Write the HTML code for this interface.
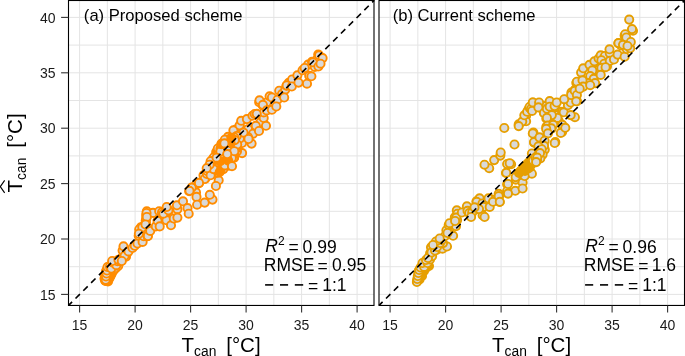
<!DOCTYPE html>
<html><head><meta charset="utf-8"><style>html,body{margin:0;padding:0;background:#fff;overflow:hidden}svg{display:block;will-change:transform}</style></head>
<body><svg width="685" height="356" viewBox="0 0 685 356" font-family='"Liberation Sans", sans-serif'>
<rect width="685" height="356" fill="#fff"/>
<line x1="79.60" y1="0.5" x2="79.60" y2="305.45" stroke="#E4E4E4" stroke-width="1.0"/>
<line x1="68.5" y1="294.40" x2="374.0" y2="294.40" stroke="#E4E4E4" stroke-width="1.0"/>
<line x1="107.35" y1="0.5" x2="107.35" y2="305.45" stroke="#E4E4E4" stroke-width="1.0"/>
<line x1="68.5" y1="266.70" x2="374.0" y2="266.70" stroke="#E4E4E4" stroke-width="1.0"/>
<line x1="135.10" y1="0.5" x2="135.10" y2="305.45" stroke="#E4E4E4" stroke-width="1.0"/>
<line x1="68.5" y1="239.00" x2="374.0" y2="239.00" stroke="#E4E4E4" stroke-width="1.0"/>
<line x1="162.85" y1="0.5" x2="162.85" y2="305.45" stroke="#E4E4E4" stroke-width="1.0"/>
<line x1="68.5" y1="211.30" x2="374.0" y2="211.30" stroke="#E4E4E4" stroke-width="1.0"/>
<line x1="190.60" y1="0.5" x2="190.60" y2="305.45" stroke="#E4E4E4" stroke-width="1.0"/>
<line x1="68.5" y1="183.60" x2="374.0" y2="183.60" stroke="#E4E4E4" stroke-width="1.0"/>
<line x1="218.35" y1="0.5" x2="218.35" y2="305.45" stroke="#E4E4E4" stroke-width="1.0"/>
<line x1="68.5" y1="155.90" x2="374.0" y2="155.90" stroke="#E4E4E4" stroke-width="1.0"/>
<line x1="246.10" y1="0.5" x2="246.10" y2="305.45" stroke="#E4E4E4" stroke-width="1.0"/>
<line x1="68.5" y1="128.20" x2="374.0" y2="128.20" stroke="#E4E4E4" stroke-width="1.0"/>
<line x1="273.85" y1="0.5" x2="273.85" y2="305.45" stroke="#E4E4E4" stroke-width="1.0"/>
<line x1="68.5" y1="100.50" x2="374.0" y2="100.50" stroke="#E4E4E4" stroke-width="1.0"/>
<line x1="301.60" y1="0.5" x2="301.60" y2="305.45" stroke="#E4E4E4" stroke-width="1.0"/>
<line x1="68.5" y1="72.80" x2="374.0" y2="72.80" stroke="#E4E4E4" stroke-width="1.0"/>
<line x1="329.35" y1="0.5" x2="329.35" y2="305.45" stroke="#E4E4E4" stroke-width="1.0"/>
<line x1="68.5" y1="45.10" x2="374.0" y2="45.10" stroke="#E4E4E4" stroke-width="1.0"/>
<line x1="357.10" y1="0.5" x2="357.10" y2="305.45" stroke="#E4E4E4" stroke-width="1.0"/>
<line x1="68.5" y1="17.40" x2="374.0" y2="17.40" stroke="#E4E4E4" stroke-width="1.0"/>
<g fill="#D9D9D9" stroke="#FF8C00" stroke-width="1.9">
<circle cx="105.5" cy="281.0" r="4.1"/>
<circle cx="106.0" cy="279.5" r="4.1"/>
<circle cx="106.5" cy="278.0" r="4.1"/>
<circle cx="107.0" cy="275.0" r="4.1"/>
<circle cx="107.5" cy="272.0" r="4.1"/>
<circle cx="108.0" cy="269.0" r="4.1"/>
<circle cx="108.5" cy="267.5" r="4.1"/>
<circle cx="109.5" cy="266.5" r="4.1"/>
<circle cx="108.5" cy="277.0" r="4.1"/>
<circle cx="109.0" cy="274.0" r="4.1"/>
<circle cx="104.5" cy="278.5" r="4.1"/>
<circle cx="105.0" cy="276.0" r="4.1"/>
<circle cx="106.0" cy="271.0" r="4.1"/>
<circle cx="105.2" cy="280.2" r="4.1"/>
<circle cx="106.3" cy="280.8" r="4.1"/>
<circle cx="105.8" cy="278.2" r="4.1"/>
<circle cx="107.2" cy="279.0" r="4.1"/>
<circle cx="106.8" cy="276.0" r="4.1"/>
<circle cx="105.4" cy="274.6" r="4.1"/>
<circle cx="107.6" cy="273.8" r="4.1"/>
<circle cx="106.2" cy="272.2" r="4.1"/>
<circle cx="108.2" cy="271.2" r="4.1"/>
<circle cx="107.4" cy="268.8" r="4.1"/>
<circle cx="108.8" cy="270.5" r="4.1"/>
<circle cx="108.5" cy="279.5" r="4.1"/>
<circle cx="110.2" cy="276.2" r="4.1"/>
<circle cx="112.0" cy="273.0" r="4.1"/>
<circle cx="113.8" cy="270.2" r="4.1"/>
<circle cx="116.0" cy="268.0" r="4.1"/>
<circle cx="118.2" cy="266.0" r="4.1"/>
<circle cx="105.5" cy="280.5" r="4.1" fill="#FF8C00"/>
<circle cx="106.8" cy="278.5" r="4.1" fill="#FF8C00"/>
<circle cx="106.0" cy="276.0" r="4.1" fill="#FF8C00"/>
<circle cx="107.5" cy="275.0" r="4.1" fill="#FF8C00"/>
<circle cx="109.5" cy="278.0" r="4.1" fill="#FF8C00"/>
<circle cx="108.0" cy="281.5" r="4.1" fill="#FF8C00"/>
<circle cx="111.0" cy="275.0" r="4.1" fill="#FF8C00"/>
<circle cx="105.7" cy="279.8" r="4.1"/>
<circle cx="106.0" cy="276.5" r="4.1"/>
<circle cx="106.5" cy="273.5" r="4.1"/>
<circle cx="107.0" cy="270.5" r="4.1"/>
<circle cx="107.5" cy="267.0" r="4.1"/>
<circle cx="110.0" cy="266.5" r="4.1"/>
<circle cx="111.3" cy="268.5" r="4.1"/>
<circle cx="112.5" cy="262.4" r="4.1"/>
<circle cx="116.4" cy="265.2" r="4.1"/>
<circle cx="117.5" cy="261.2" r="4.1"/>
<circle cx="120.9" cy="261.2" r="4.1"/>
<circle cx="121.5" cy="258.4" r="4.1"/>
<circle cx="123.7" cy="255.6" r="4.1"/>
<circle cx="126.0" cy="256.7" r="4.1"/>
<circle cx="127.0" cy="253.4" r="4.1"/>
<circle cx="122.6" cy="250.6" r="4.1"/>
<circle cx="123.5" cy="246.3" r="4.1"/>
<circle cx="112.2" cy="261.0" r="4.1"/>
<circle cx="118.4" cy="259.8" r="4.1"/>
<circle cx="124.6" cy="255.9" r="4.1"/>
<circle cx="121.8" cy="261.0" r="4.1"/>
<circle cx="128.5" cy="251.4" r="4.1"/>
<circle cx="132.5" cy="248.0" r="4.1"/>
<circle cx="134.7" cy="245.8" r="4.1"/>
<circle cx="137.5" cy="243.5" r="4.1"/>
<circle cx="138.7" cy="235.7" r="4.1"/>
<circle cx="142.6" cy="241.9" r="4.1"/>
<circle cx="143.7" cy="236.2" r="4.1"/>
<circle cx="147.6" cy="236.2" r="4.1"/>
<circle cx="140.9" cy="227.2" r="4.1"/>
<circle cx="147.1" cy="228.9" r="4.1"/>
<circle cx="139.2" cy="229.5" r="4.1"/>
<circle cx="146.8" cy="211.2" r="4.1"/>
<circle cx="146.2" cy="215.2" r="4.1"/>
<circle cx="146.2" cy="218.5" r="4.1"/>
<circle cx="145.7" cy="220.8" r="4.1"/>
<circle cx="144.0" cy="225.8" r="4.1"/>
<circle cx="142.3" cy="227.5" r="4.1"/>
<circle cx="138.9" cy="233.7" r="4.1"/>
<circle cx="147.9" cy="236.0" r="4.1"/>
<circle cx="150.2" cy="230.9" r="4.1"/>
<circle cx="155.8" cy="226.4" r="4.1"/>
<circle cx="153.0" cy="212.9" r="4.1"/>
<circle cx="159.2" cy="211.2" r="4.1"/>
<circle cx="157.5" cy="220.8" r="4.1"/>
<circle cx="159.7" cy="226.4" r="4.1"/>
<circle cx="162.0" cy="212.4" r="4.1"/>
<circle cx="165.3" cy="216.9" r="4.1"/>
<circle cx="168.7" cy="210.7" r="4.1"/>
<circle cx="166.5" cy="220.2" r="4.1"/>
<circle cx="171.0" cy="225.3" r="4.1"/>
<circle cx="173.8" cy="218.5" r="4.1"/>
<circle cx="163.4" cy="213.7" r="4.1"/>
<circle cx="168.4" cy="210.3" r="4.1"/>
<circle cx="166.7" cy="207.0" r="4.1"/>
<circle cx="177.4" cy="209.2" r="4.1"/>
<circle cx="176.9" cy="205.3" r="4.1"/>
<circle cx="183.0" cy="201.3" r="4.1"/>
<circle cx="187.5" cy="208.1" r="4.1"/>
<circle cx="188.7" cy="213.7" r="4.1"/>
<circle cx="177.4" cy="217.6" r="4.1"/>
<circle cx="189.2" cy="191.2" r="4.1"/>
<circle cx="193.7" cy="189.0" r="4.1"/>
<circle cx="196.0" cy="192.4" r="4.1"/>
<circle cx="196.5" cy="196.9" r="4.1"/>
<circle cx="197.1" cy="204.7" r="4.1"/>
<circle cx="196.0" cy="184.5" r="4.1"/>
<circle cx="191.7" cy="187.6" r="4.1"/>
<circle cx="199.0" cy="183.1" r="4.1"/>
<circle cx="205.2" cy="178.7" r="4.1"/>
<circle cx="203.5" cy="175.3" r="4.1"/>
<circle cx="207.5" cy="174.2" r="4.1"/>
<circle cx="210.8" cy="169.7" r="4.1"/>
<circle cx="213.1" cy="159.6" r="4.1"/>
<circle cx="218.7" cy="160.7" r="4.1"/>
<circle cx="217.6" cy="165.2" r="4.1"/>
<circle cx="219.8" cy="168.0" r="4.1"/>
<circle cx="215.3" cy="172.5" r="4.1"/>
<circle cx="218.7" cy="180.3" r="4.1"/>
<circle cx="215.9" cy="186.0" r="4.1"/>
<circle cx="222.1" cy="155.0" r="4.1"/>
<circle cx="217.6" cy="152.2" r="4.1"/>
<circle cx="213.1" cy="164.6" r="4.1"/>
<circle cx="209.2" cy="166.9" r="4.1"/>
<circle cx="212.9" cy="158.7" r="4.1"/>
<circle cx="219.6" cy="149.2" r="4.1"/>
<circle cx="221.9" cy="143.5" r="4.1"/>
<circle cx="228.0" cy="136.8" r="4.1"/>
<circle cx="234.8" cy="134.6" r="4.1"/>
<circle cx="235.9" cy="129.5" r="4.1"/>
<circle cx="239.8" cy="126.7" r="4.1"/>
<circle cx="226.3" cy="147.5" r="4.1"/>
<circle cx="232.0" cy="150.8" r="4.1"/>
<circle cx="237.6" cy="147.5" r="4.1"/>
<circle cx="242.1" cy="143.0" r="4.1"/>
<circle cx="242.1" cy="153.1" r="4.1"/>
<circle cx="223.0" cy="161.0" r="4.1"/>
<circle cx="219.6" cy="154.2" r="4.1"/>
<circle cx="227.5" cy="155.3" r="4.1"/>
<circle cx="234.2" cy="157.6" r="4.1"/>
<circle cx="216.2" cy="152.0" r="4.1"/>
<circle cx="239.8" cy="138.5" r="4.1"/>
<circle cx="233.4" cy="130.3" r="4.1"/>
<circle cx="239.6" cy="125.3" r="4.1"/>
<circle cx="241.2" cy="120.8" r="4.1"/>
<circle cx="246.9" cy="119.1" r="4.1"/>
<circle cx="252.5" cy="115.7" r="4.1"/>
<circle cx="254.7" cy="114.0" r="4.1"/>
<circle cx="248.0" cy="129.2" r="4.1"/>
<circle cx="253.0" cy="133.7" r="4.1"/>
<circle cx="248.0" cy="137.1" r="4.1"/>
<circle cx="258.1" cy="128.1" r="4.1"/>
<circle cx="260.3" cy="122.5" r="4.1"/>
<circle cx="263.7" cy="118.0" r="4.1"/>
<circle cx="263.7" cy="112.4" r="4.1"/>
<circle cx="262.6" cy="105.1" r="4.1"/>
<circle cx="259.2" cy="102.2" r="4.1"/>
<circle cx="267.1" cy="102.2" r="4.1"/>
<circle cx="266.0" cy="125.8" r="4.1"/>
<circle cx="255.8" cy="125.8" r="4.1"/>
<circle cx="243.5" cy="132.6" r="4.1"/>
<circle cx="236.7" cy="136.0" r="4.1"/>
<circle cx="259.5" cy="100.3" r="4.1"/>
<circle cx="262.9" cy="104.8" r="4.1"/>
<circle cx="266.8" cy="110.4" r="4.1"/>
<circle cx="269.6" cy="96.3" r="4.1"/>
<circle cx="271.9" cy="97.5" r="4.1"/>
<circle cx="274.7" cy="104.2" r="4.1"/>
<circle cx="277.5" cy="99.7" r="4.1"/>
<circle cx="279.2" cy="90.7" r="4.1"/>
<circle cx="282.0" cy="94.1" r="4.1"/>
<circle cx="285.3" cy="89.6" r="4.1"/>
<circle cx="286.5" cy="85.7" r="4.1"/>
<circle cx="288.7" cy="82.9" r="4.1"/>
<circle cx="292.1" cy="79.5" r="4.1"/>
<circle cx="271.9" cy="109.8" r="4.1"/>
<circle cx="276.3" cy="106.5" r="4.1"/>
<circle cx="284.2" cy="97.5" r="4.1"/>
<circle cx="256.7" cy="113.8" r="4.1"/>
<circle cx="286.7" cy="85.4" r="4.1"/>
<circle cx="291.8" cy="86.5" r="4.1"/>
<circle cx="297.4" cy="75.3" r="4.1"/>
<circle cx="298.5" cy="82.6" r="4.1"/>
<circle cx="302.5" cy="70.2" r="4.1"/>
<circle cx="307.0" cy="83.7" r="4.1"/>
<circle cx="309.2" cy="75.8" r="4.1"/>
<circle cx="308.1" cy="64.6" r="4.1"/>
<circle cx="312.0" cy="61.8" r="4.1"/>
<circle cx="314.8" cy="66.9" r="4.1"/>
<circle cx="318.2" cy="54.5" r="4.1"/>
<circle cx="316.5" cy="60.1" r="4.1"/>
<circle cx="304.7" cy="68.0" r="4.1"/>
<circle cx="319.1" cy="55.3" r="4.1"/>
<circle cx="322.6" cy="58.1" r="4.1"/>
<circle cx="312.8" cy="62.3" r="4.1"/>
<circle cx="318.4" cy="66.5" r="4.1"/>
<circle cx="320.5" cy="63.7" r="4.1"/>
<circle cx="311.4" cy="76.3" r="4.1"/>
<circle cx="189.5" cy="190.8" r="4.1"/>
<circle cx="204.7" cy="202.6" r="4.1"/>
<circle cx="212.5" cy="199.6" r="4.1"/>
<circle cx="209.8" cy="194.8" r="4.1"/>
<circle cx="204.7" cy="179.0" r="4.1"/>
<circle cx="199.0" cy="182.9" r="4.1"/>
<circle cx="206.9" cy="173.9" r="4.1"/>
<circle cx="210.8" cy="172.2" r="4.1"/>
<circle cx="221.1" cy="164.1" r="4.1"/>
<circle cx="217.9" cy="151.0" r="4.1"/>
<circle cx="228.3" cy="165.8" r="4.1"/>
<circle cx="217.2" cy="164.6" r="4.1"/>
<circle cx="217.8" cy="148.5" r="4.1"/>
<circle cx="231.9" cy="140.4" r="4.1"/>
<circle cx="224.7" cy="157.3" r="4.1" fill="#FF8C00"/>
<circle cx="213.0" cy="164.1" r="4.1"/>
<circle cx="235.2" cy="145.0" r="4.1"/>
<circle cx="217.9" cy="172.7" r="4.1"/>
<circle cx="220.5" cy="148.5" r="4.1" fill="#FF8C00"/>
<circle cx="223.6" cy="146.7" r="4.1"/>
<circle cx="212.7" cy="171.1" r="4.1" fill="#FF8C00"/>
<circle cx="228.2" cy="144.1" r="4.1"/>
<circle cx="237.0" cy="151.2" r="4.1"/>
<circle cx="209.1" cy="171.3" r="4.1" fill="#FF8C00"/>
<circle cx="234.7" cy="146.8" r="4.1"/>
<circle cx="230.4" cy="147.3" r="4.1"/>
<circle cx="213.9" cy="157.2" r="4.1"/>
<circle cx="234.0" cy="157.2" r="4.1"/>
<circle cx="231.1" cy="150.0" r="4.1" fill="#FF8C00"/>
<circle cx="237.1" cy="148.2" r="4.1" fill="#FF8C00"/>
<circle cx="217.6" cy="161.0" r="4.1"/>
<circle cx="228.5" cy="151.0" r="4.1" fill="#FF8C00"/>
<circle cx="212.8" cy="161.1" r="4.1" fill="#FF8C00"/>
<circle cx="234.1" cy="154.3" r="4.1" fill="#FF8C00"/>
<circle cx="224.2" cy="154.1" r="4.1" fill="#FF8C00"/>
<circle cx="223.8" cy="161.3" r="4.1"/>
<circle cx="226.8" cy="139.9" r="4.1"/>
<circle cx="220.0" cy="154.4" r="4.1"/>
<circle cx="217.4" cy="155.4" r="4.1"/>
<circle cx="223.5" cy="150.6" r="4.1"/>
<circle cx="234.5" cy="137.5" r="4.1"/>
<circle cx="237.2" cy="144.6" r="4.1"/>
<circle cx="210.6" cy="161.2" r="4.1"/>
<circle cx="230.0" cy="162.4" r="4.1" fill="#FF8C00"/>
<circle cx="234.8" cy="140.1" r="4.1"/>
<circle cx="216.7" cy="167.9" r="4.1"/>
<circle cx="224.8" cy="139.7" r="4.1"/>
<circle cx="207.1" cy="171.0" r="4.1"/>
<circle cx="227.7" cy="146.6" r="4.1"/>
<circle cx="230.6" cy="143.1" r="4.1" fill="#FF8C00"/>
<circle cx="230.7" cy="154.7" r="4.1"/>
<circle cx="231.3" cy="137.7" r="4.1" fill="#FF8C00"/>
<circle cx="231.8" cy="157.9" r="4.1"/>
<circle cx="209.5" cy="169.2" r="4.1"/>
<circle cx="221.2" cy="157.9" r="4.1"/>
<circle cx="227.2" cy="158.3" r="4.1"/>
<circle cx="220.4" cy="151.4" r="4.1"/>
<circle cx="223.3" cy="169.1" r="4.1"/>
<circle cx="221.3" cy="144.1" r="4.1" fill="#FF8C00"/>
<circle cx="220.6" cy="169.1" r="4.1" fill="#FF8C00"/>
<circle cx="234.3" cy="151.2" r="4.1"/>
<circle cx="224.8" cy="165.4" r="4.1"/>
<circle cx="210.6" cy="175.3" r="4.1"/>
<circle cx="213.5" cy="169.1" r="4.1"/>
<circle cx="220.2" cy="161.3" r="4.1" fill="#FF8C00"/>
<circle cx="209.6" cy="164.7" r="4.1"/>
<circle cx="206.7" cy="168.2" r="4.1"/>
<circle cx="219.7" cy="172.0" r="4.1" fill="#FF8C00"/>
<circle cx="228.3" cy="160.8" r="4.1" fill="#FF8C00"/>
<circle cx="227.2" cy="154.1" r="4.1"/>
<circle cx="224.4" cy="143.4" r="4.1"/>
<circle cx="216.6" cy="157.7" r="4.1"/>
<circle cx="146.5" cy="213.0" r="4.1"/>
<circle cx="146.0" cy="223.0" r="4.1"/>
<circle cx="146.8" cy="217.0" r="4.1"/>
<circle cx="145.5" cy="224.5" r="4.1"/>
<circle cx="251.6" cy="143.6" r="4.1"/>
<circle cx="248.5" cy="139.0" r="4.1"/>
<circle cx="259.0" cy="131.0" r="4.1"/>
<circle cx="232.0" cy="166.2" r="4.1"/>
</g>
<line x1="68.60" y1="305.38" x2="374.30" y2="0.23" stroke="#000" stroke-width="1.6" stroke-dasharray="6.2 4.83" stroke-dashoffset="1.27"/>
<g fill="#000">
<text x="265.26" y="252.4" font-size="17.5" font-style="italic">R</text>
<text x="278.00" y="244.6" font-size="12">2</text>
<text x="288.55" y="253.2" font-size="17.5">=</text>
<text x="302.62" y="252.5" font-size="17.5">0.99</text>
<text x="263.76" y="270.6" font-size="17.5">RMSE</text>
<text x="317.55" y="271.6" font-size="17.5">=</text>
<text x="332.12" y="270.6" font-size="17.5">0.95</text>
<text x="308.05" y="291.7" font-size="17.5">=</text>
<text x="322.27" y="290.7" font-size="17.5">1:1</text>
</g>
<g stroke="#000" stroke-width="1.6">
<line x1="265.1" y1="284.9" x2="273.2" y2="284.9"/>
<line x1="280.0" y1="284.9" x2="288.1" y2="284.9"/>
<line x1="294.8" y1="284.9" x2="303.2" y2="284.9"/>
</g>
<rect x="68.5" y="0.5" width="305.50" height="304.95" fill="none" stroke="#000" stroke-width="1.1"/>
<line x1="79.60" y1="305.45" x2="79.60" y2="312.6" stroke="#333" stroke-width="1.1"/>
<text x="79.60" y="330.0" text-anchor="middle" font-size="14" fill="#1a1a1a">15</text>
<line x1="135.10" y1="305.45" x2="135.10" y2="312.6" stroke="#333" stroke-width="1.1"/>
<text x="135.10" y="330.0" text-anchor="middle" font-size="14" fill="#1a1a1a">20</text>
<line x1="190.60" y1="305.45" x2="190.60" y2="312.6" stroke="#333" stroke-width="1.1"/>
<text x="190.60" y="330.0" text-anchor="middle" font-size="14" fill="#1a1a1a">25</text>
<line x1="246.10" y1="305.45" x2="246.10" y2="312.6" stroke="#333" stroke-width="1.1"/>
<text x="246.10" y="330.0" text-anchor="middle" font-size="14" fill="#1a1a1a">30</text>
<line x1="301.60" y1="305.45" x2="301.60" y2="312.6" stroke="#333" stroke-width="1.1"/>
<text x="301.60" y="330.0" text-anchor="middle" font-size="14" fill="#1a1a1a">35</text>
<line x1="357.10" y1="305.45" x2="357.10" y2="312.6" stroke="#333" stroke-width="1.1"/>
<text x="357.10" y="330.0" text-anchor="middle" font-size="14" fill="#1a1a1a">40</text>
<line x1="390.10" y1="0.5" x2="390.10" y2="305.45" stroke="#E4E4E4" stroke-width="1.0"/>
<line x1="379.0" y1="294.40" x2="684.5" y2="294.40" stroke="#E4E4E4" stroke-width="1.0"/>
<line x1="417.85" y1="0.5" x2="417.85" y2="305.45" stroke="#E4E4E4" stroke-width="1.0"/>
<line x1="379.0" y1="266.70" x2="684.5" y2="266.70" stroke="#E4E4E4" stroke-width="1.0"/>
<line x1="445.60" y1="0.5" x2="445.60" y2="305.45" stroke="#E4E4E4" stroke-width="1.0"/>
<line x1="379.0" y1="239.00" x2="684.5" y2="239.00" stroke="#E4E4E4" stroke-width="1.0"/>
<line x1="473.35" y1="0.5" x2="473.35" y2="305.45" stroke="#E4E4E4" stroke-width="1.0"/>
<line x1="379.0" y1="211.30" x2="684.5" y2="211.30" stroke="#E4E4E4" stroke-width="1.0"/>
<line x1="501.10" y1="0.5" x2="501.10" y2="305.45" stroke="#E4E4E4" stroke-width="1.0"/>
<line x1="379.0" y1="183.60" x2="684.5" y2="183.60" stroke="#E4E4E4" stroke-width="1.0"/>
<line x1="528.85" y1="0.5" x2="528.85" y2="305.45" stroke="#E4E4E4" stroke-width="1.0"/>
<line x1="379.0" y1="155.90" x2="684.5" y2="155.90" stroke="#E4E4E4" stroke-width="1.0"/>
<line x1="556.60" y1="0.5" x2="556.60" y2="305.45" stroke="#E4E4E4" stroke-width="1.0"/>
<line x1="379.0" y1="128.20" x2="684.5" y2="128.20" stroke="#E4E4E4" stroke-width="1.0"/>
<line x1="584.35" y1="0.5" x2="584.35" y2="305.45" stroke="#E4E4E4" stroke-width="1.0"/>
<line x1="379.0" y1="100.50" x2="684.5" y2="100.50" stroke="#E4E4E4" stroke-width="1.0"/>
<line x1="612.10" y1="0.5" x2="612.10" y2="305.45" stroke="#E4E4E4" stroke-width="1.0"/>
<line x1="379.0" y1="72.80" x2="684.5" y2="72.80" stroke="#E4E4E4" stroke-width="1.0"/>
<line x1="639.85" y1="0.5" x2="639.85" y2="305.45" stroke="#E4E4E4" stroke-width="1.0"/>
<line x1="379.0" y1="45.10" x2="684.5" y2="45.10" stroke="#E4E4E4" stroke-width="1.0"/>
<line x1="667.60" y1="0.5" x2="667.60" y2="305.45" stroke="#E4E4E4" stroke-width="1.0"/>
<line x1="379.0" y1="17.40" x2="684.5" y2="17.40" stroke="#E4E4E4" stroke-width="1.0"/>
<g fill="#D9D9D9" stroke="#E69F00" stroke-width="1.9">
<circle cx="417.0" cy="281.0" r="4.1" fill="#E69F00"/>
<circle cx="418.0" cy="277.0" r="4.1" fill="#E69F00"/>
<circle cx="419.5" cy="279.5" r="4.1" fill="#E69F00"/>
<circle cx="420.0" cy="274.0" r="4.1" fill="#E69F00"/>
<circle cx="418.5" cy="271.5" r="4.1" fill="#E69F00"/>
<circle cx="422.0" cy="276.0" r="4.1" fill="#E69F00"/>
<circle cx="421.0" cy="270.0" r="4.1" fill="#E69F00"/>
<circle cx="424.0" cy="271.0" r="4.1" fill="#E69F00"/>
<circle cx="426.0" cy="268.0" r="4.1" fill="#E69F00"/>
<circle cx="429.0" cy="266.0" r="4.1" fill="#E69F00"/>
<circle cx="416.9" cy="282.0" r="4.1"/>
<circle cx="417.3" cy="279.0" r="4.1"/>
<circle cx="417.8" cy="276.0" r="4.1"/>
<circle cx="418.4" cy="273.0" r="4.1"/>
<circle cx="419.2" cy="270.0" r="4.1"/>
<circle cx="420.5" cy="267.5" r="4.1"/>
<circle cx="424.2" cy="266.9" r="4.1"/>
<circle cx="422.5" cy="263.0" r="4.1"/>
<circle cx="427.6" cy="263.0" r="4.1"/>
<circle cx="430.0" cy="259.5" r="4.1"/>
<circle cx="432.1" cy="256.2" r="4.1"/>
<circle cx="431.0" cy="247.2" r="4.1"/>
<circle cx="430.1" cy="253.2" r="4.1"/>
<circle cx="433.5" cy="245.3" r="4.1"/>
<circle cx="438.5" cy="246.5" r="4.1"/>
<circle cx="436.9" cy="249.8" r="4.1"/>
<circle cx="442.5" cy="248.7" r="4.1"/>
<circle cx="447.0" cy="246.5" r="4.1"/>
<circle cx="440.8" cy="239.2" r="4.1"/>
<circle cx="443.0" cy="243.1" r="4.1"/>
<circle cx="446.4" cy="230.2" r="4.1"/>
<circle cx="448.7" cy="225.1" r="4.1"/>
<circle cx="450.9" cy="234.1" r="4.1"/>
<circle cx="453.1" cy="235.8" r="4.1"/>
<circle cx="453.7" cy="224.0" r="4.1"/>
<circle cx="457.1" cy="220.1" r="4.1"/>
<circle cx="456.0" cy="226.2" r="4.1"/>
<circle cx="454.8" cy="217.2" r="4.1"/>
<circle cx="426.0" cy="260.0" r="4.1"/>
<circle cx="428.0" cy="258.0" r="4.1"/>
<circle cx="431.5" cy="252.5" r="4.1"/>
<circle cx="435.0" cy="250.5" r="4.1"/>
<circle cx="437.0" cy="247.0" r="4.1"/>
<circle cx="440.0" cy="243.0" r="4.1"/>
<circle cx="436.0" cy="241.5" r="4.1"/>
<circle cx="442.0" cy="240.0" r="4.1"/>
<circle cx="445.0" cy="236.0" r="4.1"/>
<circle cx="447.5" cy="233.0" r="4.1"/>
<circle cx="433.0" cy="245.0" r="4.1"/>
<circle cx="439.7" cy="238.5" r="4.1"/>
<circle cx="449.5" cy="223.2" r="4.1"/>
<circle cx="456.8" cy="210.3" r="4.1"/>
<circle cx="457.4" cy="213.7" r="4.1"/>
<circle cx="456.2" cy="217.6" r="4.1"/>
<circle cx="455.1" cy="221.0" r="4.1"/>
<circle cx="461.9" cy="212.5" r="4.1"/>
<circle cx="466.9" cy="206.3" r="4.1"/>
<circle cx="467.5" cy="210.8" r="4.1"/>
<circle cx="470.8" cy="215.3" r="4.1"/>
<circle cx="469.2" cy="213.1" r="4.1"/>
<circle cx="476.5" cy="201.3" r="4.1"/>
<circle cx="479.3" cy="199.0" r="4.1"/>
<circle cx="478.7" cy="209.2" r="4.1"/>
<circle cx="481.0" cy="209.7" r="4.1"/>
<circle cx="482.6" cy="215.3" r="4.1"/>
<circle cx="474.8" cy="208.6" r="4.1"/>
<circle cx="489.2" cy="168.2" r="4.1"/>
<circle cx="484.5" cy="164.7" r="4.1"/>
<circle cx="494.2" cy="160.1" r="4.1"/>
<circle cx="500.3" cy="155.6" r="4.1"/>
<circle cx="507.1" cy="164.0" r="4.1"/>
<circle cx="506.0" cy="173.0" r="4.1"/>
<circle cx="507.1" cy="184.2" r="4.1"/>
<circle cx="507.1" cy="191.0" r="4.1"/>
<circle cx="498.7" cy="193.8" r="4.1"/>
<circle cx="506.3" cy="172.8" r="4.1"/>
<circle cx="508.0" cy="184.0" r="4.1"/>
<circle cx="515.8" cy="179.6" r="4.1"/>
<circle cx="515.3" cy="190.8" r="4.1"/>
<circle cx="508.0" cy="193.6" r="4.1"/>
<circle cx="499.0" cy="196.4" r="4.1"/>
<circle cx="499.6" cy="202.0" r="4.1"/>
<circle cx="491.1" cy="199.2" r="4.1"/>
<circle cx="522.6" cy="182.4" r="4.1"/>
<circle cx="522.6" cy="188.5" r="4.1"/>
<circle cx="518.7" cy="175.1" r="4.1"/>
<circle cx="523.1" cy="171.7" r="4.1"/>
<circle cx="527.1" cy="173.4" r="4.1"/>
<circle cx="479.6" cy="198.4" r="4.1"/>
<circle cx="476.7" cy="201.8" r="4.1"/>
<circle cx="482.4" cy="203.5" r="4.1"/>
<circle cx="483.5" cy="206.9" r="4.1"/>
<circle cx="479.0" cy="209.1" r="4.1"/>
<circle cx="484.6" cy="217.0" r="4.1"/>
<circle cx="488.5" cy="198.4" r="4.1"/>
<circle cx="489.7" cy="206.9" r="4.1"/>
<circle cx="493.0" cy="201.8" r="4.1"/>
<circle cx="498.7" cy="196.2" r="4.1"/>
<circle cx="499.8" cy="201.8" r="4.1"/>
<circle cx="472.2" cy="212.5" r="4.1"/>
<circle cx="471.1" cy="217.0" r="4.1"/>
<circle cx="474.5" cy="207.4" r="4.1"/>
<circle cx="514.5" cy="144.5" r="4.1"/>
<circle cx="511.1" cy="164.2" r="4.1"/>
<circle cx="531.9" cy="153.5" r="4.1"/>
<circle cx="534.2" cy="142.8" r="4.1"/>
<circle cx="538.1" cy="144.5" r="4.1"/>
<circle cx="543.7" cy="145.1" r="4.1"/>
<circle cx="544.8" cy="149.6" r="4.1"/>
<circle cx="542.6" cy="154.6" r="4.1"/>
<circle cx="540.3" cy="158.5" r="4.1"/>
<circle cx="537.0" cy="160.2" r="4.1"/>
<circle cx="533.6" cy="162.5" r="4.1"/>
<circle cx="530.8" cy="165.3" r="4.1"/>
<circle cx="528.0" cy="167.5" r="4.1"/>
<circle cx="524.6" cy="167.0" r="4.1"/>
<circle cx="521.8" cy="170.3" r="4.1"/>
<circle cx="518.4" cy="173.1" r="4.1"/>
<circle cx="530.2" cy="171.5" r="4.1"/>
<circle cx="531.9" cy="173.7" r="4.1"/>
<circle cx="524.6" cy="176.0" r="4.1"/>
<circle cx="515.6" cy="177.1" r="4.1"/>
<circle cx="526.0" cy="166.0" r="4.1"/>
<circle cx="527.0" cy="169.0" r="4.1"/>
<circle cx="525.5" cy="168.5" r="4.1"/>
<circle cx="529.0" cy="168.0" r="4.1"/>
<circle cx="519.0" cy="173.0" r="4.1" fill="#E69F00"/>
<circle cx="521.0" cy="170.5" r="4.1" fill="#E69F00"/>
<circle cx="523.0" cy="168.0" r="4.1" fill="#E69F00"/>
<circle cx="525.0" cy="166.0" r="4.1" fill="#E69F00"/>
<circle cx="527.0" cy="164.0" r="4.1" fill="#E69F00"/>
<circle cx="525.0" cy="171.0" r="4.1" fill="#E69F00"/>
<circle cx="527.5" cy="168.5" r="4.1" fill="#E69F00"/>
<circle cx="529.0" cy="162.0" r="4.1" fill="#E69F00"/>
<circle cx="530.5" cy="165.0" r="4.1" fill="#E69F00"/>
<circle cx="533.0" cy="160.5" r="4.1"/>
<circle cx="535.5" cy="157.5" r="4.1"/>
<circle cx="538.0" cy="155.0" r="4.1"/>
<circle cx="526.1" cy="115.7" r="4.1"/>
<circle cx="526.1" cy="121.3" r="4.1"/>
<circle cx="528.4" cy="109.5" r="4.1"/>
<circle cx="533.4" cy="132.5" r="4.1"/>
<circle cx="538.5" cy="138.1" r="4.1"/>
<circle cx="534.0" cy="142.1" r="4.1"/>
<circle cx="544.1" cy="112.9" r="4.1"/>
<circle cx="546.3" cy="118.5" r="4.1"/>
<circle cx="546.3" cy="126.9" r="4.1"/>
<circle cx="551.4" cy="128.6" r="4.1"/>
<circle cx="553.1" cy="118.5" r="4.1"/>
<circle cx="557.0" cy="115.1" r="4.1"/>
<circle cx="558.7" cy="120.7" r="4.1"/>
<circle cx="562.1" cy="111.7" r="4.1"/>
<circle cx="562.1" cy="132.0" r="4.1"/>
<circle cx="555.3" cy="142.1" r="4.1"/>
<circle cx="547.5" cy="133.1" r="4.1"/>
<circle cx="538.5" cy="107.2" r="4.1"/>
<circle cx="545.2" cy="106.1" r="4.1"/>
<circle cx="555.3" cy="106.7" r="4.1"/>
<circle cx="535.1" cy="107.2" r="4.1"/>
<circle cx="531.7" cy="108.9" r="4.1"/>
<circle cx="504.3" cy="128.0" r="4.1"/>
<circle cx="518.7" cy="124.4" r="4.1"/>
<circle cx="522.2" cy="121.6" r="4.1"/>
<circle cx="524.3" cy="115.3" r="4.1"/>
<circle cx="527.1" cy="111.8" r="4.1"/>
<circle cx="530.0" cy="108.3" r="4.1"/>
<circle cx="532.8" cy="102.6" r="4.1"/>
<circle cx="532.8" cy="133.5" r="4.1"/>
<circle cx="529.5" cy="107.0" r="4.1"/>
<circle cx="531.0" cy="109.0" r="4.1"/>
<circle cx="532.8" cy="102.5" r="4.1"/>
<circle cx="532.1" cy="110.9" r="4.1"/>
<circle cx="539.1" cy="102.5" r="4.1"/>
<circle cx="538.4" cy="107.4" r="4.1"/>
<circle cx="544.0" cy="113.0" r="4.1"/>
<circle cx="546.9" cy="108.8" r="4.1"/>
<circle cx="549.7" cy="101.1" r="4.1"/>
<circle cx="549.7" cy="106.7" r="4.1"/>
<circle cx="554.6" cy="106.0" r="4.1"/>
<circle cx="556.7" cy="102.5" r="4.1"/>
<circle cx="565.1" cy="99.7" r="4.1"/>
<circle cx="563.7" cy="112.3" r="4.1"/>
<circle cx="557.4" cy="117.9" r="4.1"/>
<circle cx="551.8" cy="115.1" r="4.1"/>
<circle cx="546.9" cy="117.9" r="4.1"/>
<circle cx="547.6" cy="125.6" r="4.1"/>
<circle cx="553.2" cy="124.9" r="4.1"/>
<circle cx="562.3" cy="124.9" r="4.1"/>
<circle cx="567.9" cy="105.3" r="4.1"/>
<circle cx="570.7" cy="102.5" r="4.1"/>
<circle cx="573.5" cy="95.4" r="4.1"/>
<circle cx="571.4" cy="92.6" r="4.1"/>
<circle cx="574.9" cy="89.8" r="4.1"/>
<circle cx="576.3" cy="82.8" r="4.1"/>
<circle cx="577.0" cy="101.1" r="4.1"/>
<circle cx="574.9" cy="117.2" r="4.1"/>
<circle cx="570.7" cy="115.1" r="4.1"/>
<circle cx="564.2" cy="99.2" r="4.1"/>
<circle cx="571.2" cy="95.0" r="4.1"/>
<circle cx="574.7" cy="90.8" r="4.1"/>
<circle cx="576.9" cy="81.7" r="4.1"/>
<circle cx="581.1" cy="72.6" r="4.1"/>
<circle cx="583.2" cy="68.3" r="4.1"/>
<circle cx="589.5" cy="64.8" r="4.1"/>
<circle cx="594.4" cy="61.3" r="4.1"/>
<circle cx="598.6" cy="58.5" r="4.1"/>
<circle cx="602.1" cy="56.4" r="4.1"/>
<circle cx="606.3" cy="59.2" r="4.1"/>
<circle cx="607.0" cy="66.2" r="4.1"/>
<circle cx="600.7" cy="67.6" r="4.1"/>
<circle cx="596.5" cy="70.4" r="4.1"/>
<circle cx="592.3" cy="70.4" r="4.1"/>
<circle cx="590.2" cy="76.1" r="4.1"/>
<circle cx="593.7" cy="78.9" r="4.1"/>
<circle cx="595.1" cy="83.1" r="4.1"/>
<circle cx="588.1" cy="83.1" r="4.1"/>
<circle cx="582.5" cy="80.3" r="4.1"/>
<circle cx="583.2" cy="86.6" r="4.1"/>
<circle cx="590.2" cy="85.2" r="4.1"/>
<circle cx="576.9" cy="95.0" r="4.1"/>
<circle cx="576.2" cy="101.3" r="4.1"/>
<circle cx="579.7" cy="88.7" r="4.1"/>
<circle cx="600.7" cy="55.3" r="4.1"/>
<circle cx="604.9" cy="56.0" r="4.1"/>
<circle cx="601.4" cy="60.2" r="4.1"/>
<circle cx="604.2" cy="63.7" r="4.1"/>
<circle cx="601.4" cy="67.9" r="4.1"/>
<circle cx="600.7" cy="74.9" r="4.1"/>
<circle cx="609.8" cy="53.2" r="4.1"/>
<circle cx="609.8" cy="60.9" r="4.1"/>
<circle cx="605.6" cy="67.2" r="4.1"/>
<circle cx="614.0" cy="59.5" r="4.1"/>
<circle cx="617.6" cy="54.6" r="4.1"/>
<circle cx="618.3" cy="43.3" r="4.1"/>
<circle cx="621.1" cy="45.4" r="4.1"/>
<circle cx="624.6" cy="56.7" r="4.1"/>
<circle cx="626.7" cy="49.0" r="4.1"/>
<circle cx="628.8" cy="42.6" r="4.1"/>
<circle cx="624.6" cy="35.6" r="4.1"/>
<circle cx="633.0" cy="30.7" r="4.1"/>
<circle cx="630.2" cy="48.3" r="4.1"/>
<circle cx="625.3" cy="40.5" r="4.1"/>
<circle cx="629.2" cy="19.6" r="4.1"/>
<circle cx="632.0" cy="29.1" r="4.1"/>
<circle cx="625.2" cy="34.2" r="4.1"/>
<circle cx="626.3" cy="37.5" r="4.1"/>
<circle cx="630.8" cy="42.0" r="4.1"/>
<circle cx="618.5" cy="43.1" r="4.1"/>
<circle cx="623.0" cy="44.8" r="4.1"/>
<circle cx="627.5" cy="46.0" r="4.1"/>
<circle cx="609.5" cy="49.3" r="4.1"/>
<circle cx="554.7" cy="143.0" r="4.1"/>
<circle cx="560.8" cy="132.9" r="4.1"/>
<circle cx="565.3" cy="127.8" r="4.1"/>
<circle cx="551.3" cy="128.4" r="4.1"/>
<circle cx="546.2" cy="128.9" r="4.1"/>
<circle cx="547.9" cy="133.4" r="4.1"/>
<circle cx="539.5" cy="137.4" r="4.1"/>
<circle cx="544.6" cy="140.7" r="4.1"/>
<circle cx="544.0" cy="145.8" r="4.1"/>
<circle cx="538.4" cy="146.3" r="4.1"/>
<circle cx="541.7" cy="149.2" r="4.1"/>
<circle cx="540.0" cy="153.1" r="4.1"/>
<circle cx="537.2" cy="157.6" r="4.1"/>
<circle cx="536.1" cy="162.1" r="4.1"/>
<circle cx="500.7" cy="152.5" r="4.1"/>
<circle cx="509.7" cy="163.2" r="4.1"/>
<circle cx="518.7" cy="126.1" r="4.1"/>
</g>
<line x1="379.10" y1="305.38" x2="684.80" y2="0.23" stroke="#000" stroke-width="1.6" stroke-dasharray="6.2 4.83" stroke-dashoffset="1.27"/>
<g fill="#000">
<text x="585.26" y="252.4" font-size="17.5" font-style="italic">R</text>
<text x="598.00" y="244.6" font-size="12">2</text>
<text x="608.55" y="253.2" font-size="17.5">=</text>
<text x="622.62" y="252.5" font-size="17.5">0.96</text>
<text x="583.76" y="270.6" font-size="17.5">RMSE</text>
<text x="638.25" y="271.6" font-size="17.5">=</text>
<text x="651.67" y="270.6" font-size="17.5">1.6</text>
<text x="628.05" y="291.7" font-size="17.5">=</text>
<text x="642.27" y="290.7" font-size="17.5">1:1</text>
</g>
<g stroke="#000" stroke-width="1.6">
<line x1="585.1" y1="284.9" x2="593.2" y2="284.9"/>
<line x1="600.0" y1="284.9" x2="608.1" y2="284.9"/>
<line x1="614.8" y1="284.9" x2="623.2" y2="284.9"/>
</g>
<rect x="379.0" y="0.5" width="305.50" height="304.95" fill="none" stroke="#000" stroke-width="1.1"/>
<line x1="390.10" y1="305.45" x2="390.10" y2="312.6" stroke="#333" stroke-width="1.1"/>
<text x="390.10" y="330.0" text-anchor="middle" font-size="14" fill="#1a1a1a">15</text>
<line x1="445.60" y1="305.45" x2="445.60" y2="312.6" stroke="#333" stroke-width="1.1"/>
<text x="445.60" y="330.0" text-anchor="middle" font-size="14" fill="#1a1a1a">20</text>
<line x1="501.10" y1="305.45" x2="501.10" y2="312.6" stroke="#333" stroke-width="1.1"/>
<text x="501.10" y="330.0" text-anchor="middle" font-size="14" fill="#1a1a1a">25</text>
<line x1="556.60" y1="305.45" x2="556.60" y2="312.6" stroke="#333" stroke-width="1.1"/>
<text x="556.60" y="330.0" text-anchor="middle" font-size="14" fill="#1a1a1a">30</text>
<line x1="612.10" y1="305.45" x2="612.10" y2="312.6" stroke="#333" stroke-width="1.1"/>
<text x="612.10" y="330.0" text-anchor="middle" font-size="14" fill="#1a1a1a">35</text>
<line x1="667.60" y1="305.45" x2="667.60" y2="312.6" stroke="#333" stroke-width="1.1"/>
<text x="667.60" y="330.0" text-anchor="middle" font-size="14" fill="#1a1a1a">40</text>
<line x1="61.1" y1="294.40" x2="68.5" y2="294.40" stroke="#333" stroke-width="1.1"/><text x="55.5" y="299.60" text-anchor="end" font-size="14" fill="#1a1a1a">15</text><line x1="61.1" y1="239.00" x2="68.5" y2="239.00" stroke="#333" stroke-width="1.1"/><text x="55.5" y="244.20" text-anchor="end" font-size="14" fill="#1a1a1a">20</text><line x1="61.1" y1="183.60" x2="68.5" y2="183.60" stroke="#333" stroke-width="1.1"/><text x="55.5" y="188.80" text-anchor="end" font-size="14" fill="#1a1a1a">25</text><line x1="61.1" y1="128.20" x2="68.5" y2="128.20" stroke="#333" stroke-width="1.1"/><text x="55.5" y="133.40" text-anchor="end" font-size="14" fill="#1a1a1a">30</text><line x1="61.1" y1="72.80" x2="68.5" y2="72.80" stroke="#333" stroke-width="1.1"/><text x="55.5" y="78.00" text-anchor="end" font-size="14" fill="#1a1a1a">35</text><line x1="61.1" y1="17.40" x2="68.5" y2="17.40" stroke="#333" stroke-width="1.1"/><text x="55.5" y="22.60" text-anchor="end" font-size="14" fill="#1a1a1a">40</text>
<text x="83.87" y="21.2" font-size="16.6" fill="#000">(a) Proposed scheme</text>
<text x="392.67" y="21.2" font-size="16.6" fill="#000">(b) Current scheme</text>
<g fill="#000">
<g transform="translate(181.54,352.0)"><text x="0" y="0" font-size="20.5">T<tspan font-size="13.8" dy="3.9">can</tspan><tspan dy="-3.9" dx="9.9">[°C]</tspan></text></g>
<g transform="translate(492.04,352.0)"><text x="0" y="0" font-size="20.5">T<tspan font-size="13.8" dy="3.9">can</tspan><tspan dy="-3.9" dx="9.9">[°C]</tspan></text></g>
<g transform="translate(21.9,192.46) rotate(-90)"><text x="0" y="0" font-size="20.5">T<tspan font-size="13.8" dy="3.9">can</tspan><tspan dy="-3.9" dx="9.9">[°C]</tspan></text>
<path d="M-0.36,-17.25 L5.84,-21.6 L12.14,-17.25" fill="none" stroke="#000" stroke-width="1.1"/></g>
</g>
</svg></body></html>
